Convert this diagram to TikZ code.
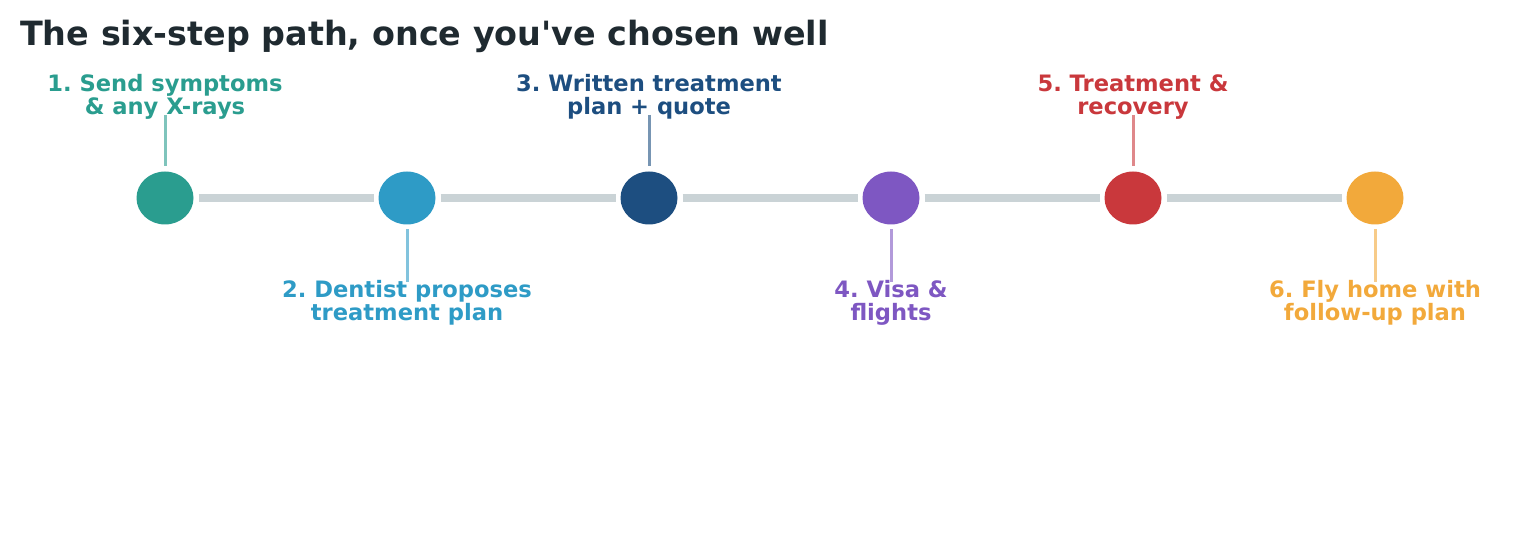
\documentclass[tikz,border=0pt]{standalone}
\usepackage{fontspec}
\newfontfamily\djv{DejaVu Sans}
\usetikzlibrary{shapes.geometric}
\definecolor{cteal}{HTML}{2A9D8F}
\definecolor{cblue}{HTML}{2E9BC6}
\definecolor{cnavy}{HTML}{1D4E80}
\definecolor{cpurple}{HTML}{7E57C2}
\definecolor{cred}{HTML}{C9383C}
\definecolor{corange}{HTML}{F2A93B}
\definecolor{ctitle}{HTML}{1F2A30}
\definecolor{cgray}{HTML}{CAD3D6}
\tikzset{
  dot/.style={ellipse, fill=#1, draw=none, minimum width=57bp, minimum height=53bp, inner sep=0pt, outer sep=5bp},
  track/.style={draw=cgray, line width=7.5bp},
  tick/.style={draw=#1, draw opacity=0.6, line width=3bp},
  toplabel/.style={text=#1, anchor=south, align=center, inner sep=0pt, font=\djv\frenchspacing\fontsize{22.6bp}{23bp}\selectfont\bfseries},
  botlabel/.style={text=#1, anchor=north, align=center, inner sep=0pt, font=\djv\frenchspacing\fontsize{22.6bp}{23bp}\selectfont\bfseries},
}
\begin{document}
\begin{tikzpicture}[x=1bp, y=-1bp]
\useasboundingbox (0,0) rectangle (1539,558);
\node[anchor=base west, inner sep=0pt, text=ctitle, font=\djv\frenchspacing\fontsize{33.4bp}{40bp}\selectfont\bfseries] (title) at (20,46) {The six-step path, once you've chosen well};

\node[dot=cteal] (n1) at (165,198) {};
\node[dot=cblue] (n2) at (407,198) {};
\node[dot=cnavy] (n3) at (649,198) {};
\node[dot=cpurple] (n4) at (891,198) {};
\node[dot=cred] (n5) at (1133,198) {};
\node[dot=corange] (n6) at (1375,198) {};

\draw[track] (n1) -- (n2);
\draw[track] (n2) -- (n3);
\draw[track] (n3) -- (n4);
\draw[track] (n4) -- (n5);
\draw[track] (n5) -- (n6);

\coordinate (t1) at (165,115);
\coordinate (t2) at (407,282);
\coordinate (t3) at (649,115);
\coordinate (t4) at (891,282);
\coordinate (t5) at (1133,115);
\coordinate (t6) at (1375,282);

\draw[tick=cteal] (t1) -- (n1.north);
\draw[tick=cblue] (n2.south) -- (t2);
\draw[tick=cnavy] (t3) -- (n3.north);
\draw[tick=cpurple] (n4.south) -- (t4);
\draw[tick=cred] (t5) -- (n5.north);
\draw[tick=corange] (n6.south) -- (t6);

\node[toplabel=cteal] (l1) at (165,119.5) {1. Send symptoms\\\& any X-rays};
\node[botlabel=cblue] (l2) at (407,280) {2. Dentist proposes\\treatment plan};
\node[toplabel=cnavy] (l3) at (649,119.5) {3. Written treatment\\plan + quote};
\node[botlabel=cpurple] (l4) at (891,280) {4. Visa \&\\flights};
\node[toplabel=cred] (l5) at (1133,119.5) {5. Treatment \&\\recovery};
\node[botlabel=corange] (l6) at (1375,280) {6. Fly home with\\follow-up plan};
\end{tikzpicture}
\end{document}
